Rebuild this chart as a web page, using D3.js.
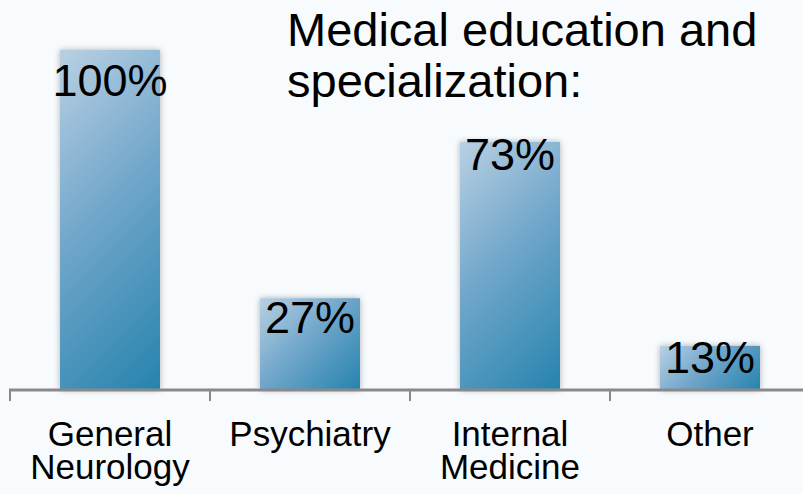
<!DOCTYPE html>
<html>
<head>
<meta charset="utf-8">
<script src="https://cdn.jsdelivr.net/npm/d3@7"></script>
<style>
  html, body { margin: 0; padding: 0; background: #f7fbfd; }
  svg { display: block; font-family: Arial, "Liberation Sans", sans-serif; }
</style>
</head>
<body>
<div id="chart"></div>
<script>
// Chart values
var categories = ["General Neurology", "Psychiatry", "Internal Medicine", "Other"];
var labelLines = [["General", "Neurology"], ["Psychiatry"], ["Internal", "Medicine"], ["Other"]];
var values = [100, 27, 73, 13];
var titleLines = ["Medical education and", "specialization:"];

// Layout: how far below the bar top each value label sits
var labelDy = [46, 35, 28, 27];

var width = 803, height = 494;

var svg = d3.select("#chart").append("svg")
	.attr("width", width)
	.attr("height", height);

svg.append("rect")
	.attr("width", width)
	.attr("height", height)
	.attr("fill", "#f7fbfd");

var defs = svg.append("defs");

// Scales
var x = d3.scaleBand()
	.domain(categories)
	.range([10, 810])
	.paddingInner(0.5)
	.paddingOuter(0.25);

var y = d3.scaleLinear()
	.domain([0, 100])
	.range([390, 50]);

// One 45 degree gradient per bar, light top-left to dark bottom-right
values.forEach(function(v, i) {
	var x0 = x(categories[i]), y0 = y(v);
	var w = x.bandwidth(), h = y(0) - y(v);
	var s = (w + h) / 2;
	var g = defs.append("linearGradient")
		.attr("id", "barGrad" + i)
		.attr("gradientUnits", "userSpaceOnUse")
		.attr("x1", x0).attr("y1", y0)
		.attr("x2", x0 + s).attr("y2", y0 + s);
	g.append("stop").attr("offset", "0%").attr("stop-color", "#b9d0e3");
	g.append("stop").attr("offset", "45%").attr("stop-color", "#72a7cb");
	g.append("stop").attr("offset", "100%").attr("stop-color", "#2583ae");
});

// Soft shadow round the bars
var shadow = defs.append("filter")
	.attr("id", "barShadow")
	.attr("x", "-20%").attr("y", "-20%")
	.attr("width", "140%").attr("height", "140%");
shadow.append("feGaussianBlur")
	.attr("in", "SourceAlpha")
	.attr("stdDeviation", 3)
	.attr("result", "blur");
shadow.append("feComponentTransfer")
	.attr("in", "blur")
	.attr("result", "faded")
	.append("feFuncA").attr("type", "linear").attr("slope", 0.3);
var merge = shadow.append("feMerge");
merge.append("feMergeNode").attr("in", "faded");
merge.append("feMergeNode").attr("in", "SourceGraphic");

// Bars
svg.append("g")
	.selectAll("rect")
	.data(values)
	.enter().append("rect")
		.attr("x", function(d, i) { return x(categories[i]); })
		.attr("y", function(d) { return y(d); })
		.attr("width", x.bandwidth())
		.attr("height", function(d) { return y(0) - y(d); })
		.attr("fill", function(d, i) { return "url(#barGrad" + i + ")"; })
		.attr("filter", "url(#barShadow)");

// Value labels
svg.append("g")
	.selectAll("text")
	.data(values)
	.enter().append("text")
		.attr("x", function(d, i) { return x(categories[i]) + x.bandwidth() / 2; })
		.attr("y", function(d, i) { return y(d) + labelDy[i]; })
		.attr("text-anchor", "middle")
		.attr("font-size", "45px")
		.attr("fill", "#000")
		.text(function(d) { return d + "%"; });

// Axis line and ticks between the categories
var half = x.step() * x.paddingInner() / 2;
var axis = svg.append("g").attr("stroke", "#898989");
axis.append("line")
	.attr("x1", 9).attr("x2", width)
	.attr("y1", y(0)).attr("y2", y(0))
	.attr("stroke-width", 3);
axis.selectAll(".tick")
	.data(categories)
	.enter().append("line")
		.attr("class", "tick")
		.attr("x1", function(d) { return x(d) - half; })
		.attr("x2", function(d) { return x(d) - half; })
		.attr("y1", y(0))
		.attr("y2", y(0) + 11)
		.attr("stroke-width", 2);

// Category labels
var cat = svg.append("g")
	.selectAll("text")
	.data(categories)
	.enter().append("text")
		.attr("x", function(d) { return x(d) + x.bandwidth() / 2; })
		.attr("y", 446)
		.attr("text-anchor", "middle")
		.attr("font-size", "35px")
		.attr("fill", "#000");
cat.selectAll("tspan")
	.data(function(d, i) { return labelLines[i]; })
	.enter().append("tspan")
		.attr("x", function() { return d3.select(this.parentNode).attr("x"); })
		.attr("dy", function(d, i) { return i === 0 ? 0 : 33; })
		.text(function(d) { return d; });

// Title
svg.append("text")
	.attr("x", 287)
	.attr("y", 46)
	.attr("font-size", "47px")
	.attr("fill", "#000")
	.selectAll("tspan")
	.data(titleLines)
	.enter().append("tspan")
		.attr("x", 287)
		.attr("dy", function(d, i) { return i === 0 ? 0 : 51; })
		.text(function(d) { return d; });
</script>
</body>
</html>
